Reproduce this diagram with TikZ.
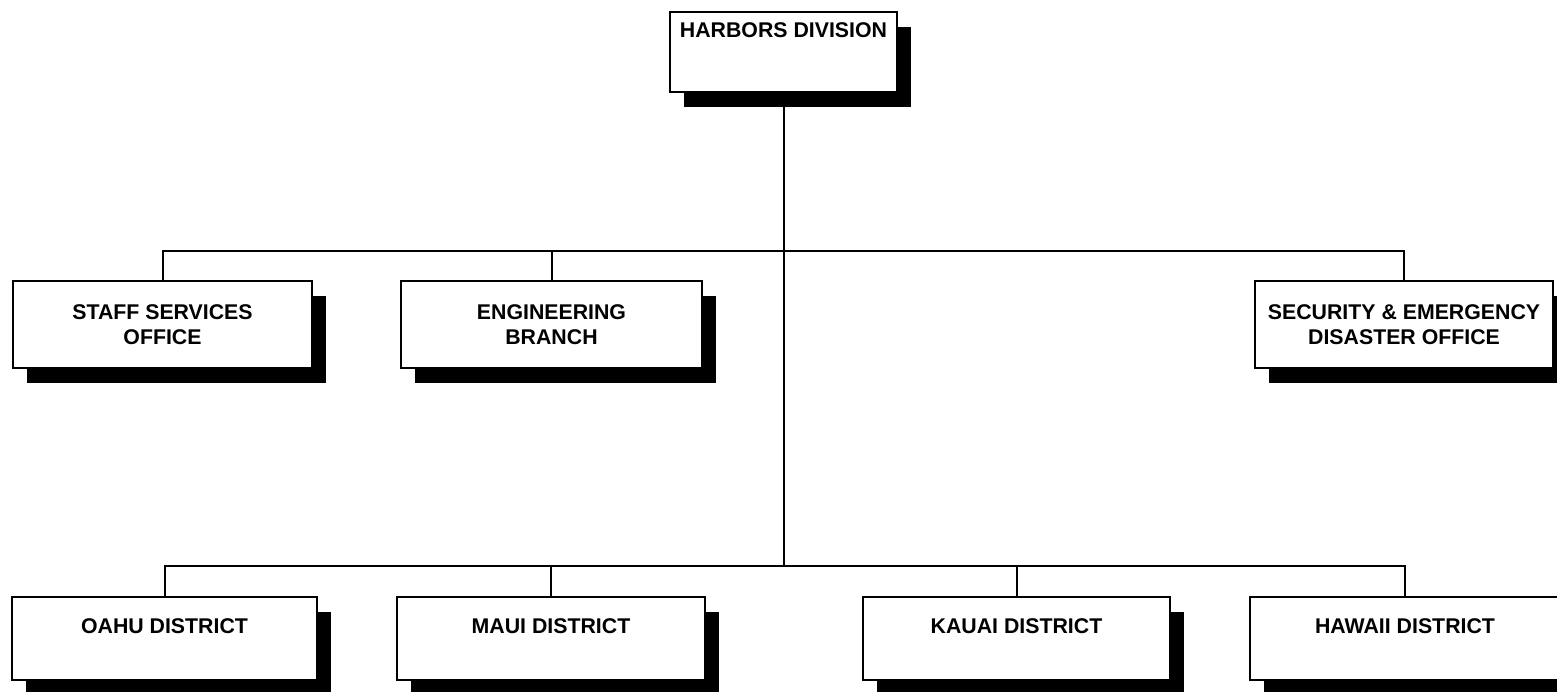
\documentclass[tikz,border=0pt]{standalone}
\usepackage{fontspec}
\setmainfont{Liberation Sans}
\usepackage{tikz}
\usetikzlibrary{shadows}

\begin{document}
\begin{tikzpicture}[
  x=1pt, y=-1pt,
  font=\fontsize{21.3}{25}\selectfont\bfseries,
  orgbox/.style={draw=black, line width=2pt, fill=white, align=center, inner sep=0pt,
    drop shadow={shadow xshift=14pt, shadow yshift=-15pt, fill=black, opacity=1}},
  headbox/.style={orgbox, minimum width=227pt, text height=25pt, text depth=55pt},
  unitbox/.style={orgbox, minimum width=300pt, minimum height=87pt},
  distbox/.style={orgbox, minimum width=306pt, text height=36pt, text depth=47pt},
  conn/.style={line width=2pt}
]
\useasboundingbox (0,0) rectangle (1557,691);

% ==================== HEAD ====================
\node[headbox] (hdiv) at (783.5, 52) {HARBORS DIVISION};

% ==================== STAFF ROW ====================
\node[unitbox, minimum width=299pt] (staff) at (162.5, 324.5) {STAFF SERVICES\\OFFICE};
\node[unitbox, minimum width=301pt] (eng) at (551.5, 324.5) {ENGINEERING\\BRANCH};
\node[unitbox, minimum width=298pt] (secy) at (1404, 324.5) {SECURITY \& EMERGENCY\\DISASTER OFFICE};

% ==================== DISTRICT ROW ====================
\node[distbox, minimum width=305pt] (oahu) at (164.5, 638.5) {OAHU DISTRICT};
\node[distbox, minimum width=308pt] (maui) at (551, 638.5) {MAUI DISTRICT};
\node[distbox, minimum width=307pt] (kauai) at (1016.5, 638.5) {KAUAI DISTRICT};
\node[distbox, minimum width=310pt] (hawaii) at (1405, 638.5) {HAWAII DISTRICT};

% Bus lines
\coordinate (bus1) at (hdiv.south |- 0,251);
\coordinate (bus2) at (hdiv.south |- 0,566);

\draw[conn] (hdiv.south) -- (bus2);
\draw[conn] (staff.north) |- (bus1) -| (secy.north);
\draw[conn] (eng.north) -- (eng.north |- bus1);
\draw[conn] (oahu.north) |- (bus2) -| (hawaii.north);
\draw[conn] (maui.north) -- (maui.north |- bus2);
\draw[conn] (kauai.north) -- (kauai.north |- bus2);

\end{tikzpicture}
\end{document}
